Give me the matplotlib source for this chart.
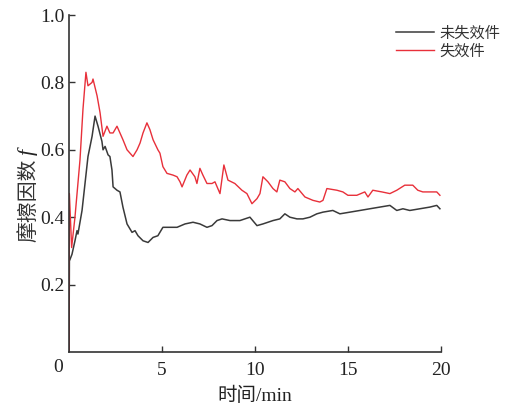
import numpy as np
import matplotlib.pyplot as plt

plt.rcParams['font.family'] = ['Liberation Serif', 'Noto Sans CJK SC']

# time (min) / friction coefficient
t_ok = [0.0, 0.02, 0.16, 0.32, 0.43, 0.48, 0.70, 0.86, 1.02, 1.24, 1.40, 1.56, 1.77, 1.83, 1.94,
        2.10, 2.20, 2.31, 2.37, 2.58, 2.74, 2.90, 3.12, 3.39, 3.55, 3.71, 3.98, 4.25, 4.52, 4.78,
        5.05, 5.43, 5.81, 6.24, 6.67, 7.04, 7.42, 7.69, 7.96, 8.23, 8.66, 9.19, 9.73, 10.11,
        10.43, 10.97, 11.34, 11.61, 11.88, 12.26, 12.58, 12.96, 13.33, 13.66, 14.19, 14.57,
        15.11, 15.65, 16.18, 16.72, 17.26, 17.63, 17.96, 18.33, 18.87, 19.41, 19.78, 19.95]
f_ok = [0.0, 0.27, 0.29, 0.33, 0.36, 0.35, 0.42, 0.50, 0.58, 0.64, 0.70, 0.67, 0.625, 0.60, 0.61,
        0.585, 0.58, 0.54, 0.49, 0.48, 0.475, 0.43, 0.38, 0.355, 0.36, 0.345, 0.33, 0.325, 0.34, 0.345,
        0.37, 0.37, 0.37, 0.38, 0.385, 0.38, 0.37, 0.375, 0.39, 0.395, 0.39, 0.39, 0.40, 0.375,
        0.38, 0.39, 0.395, 0.41, 0.40, 0.395, 0.395, 0.40, 0.41, 0.415, 0.42, 0.41,
        0.415, 0.42, 0.425, 0.43, 0.435, 0.42, 0.425, 0.42, 0.425, 0.43, 0.435, 0.425]

t_fail = [0.0, 0.02, 0.14, 0.32, 0.59, 0.75, 0.91, 1.02, 1.24, 1.29, 1.51, 1.67, 1.83, 2.04, 2.20,
          2.37, 2.58, 2.74, 2.90, 3.12, 3.28, 3.44, 3.66, 3.82, 3.98, 4.19, 4.35, 4.52, 4.78, 4.89,
          5.05, 5.27, 5.59, 5.81, 5.97, 6.08, 6.34, 6.51, 6.77, 6.88, 7.04, 7.20, 7.42, 7.69, 7.85,
          8.12, 8.33, 8.55, 8.92, 9.30, 9.57, 9.84, 10.11, 10.27, 10.43, 10.70, 10.97, 11.18, 11.34,
          11.61, 11.88, 12.15, 12.31, 12.69, 13.12, 13.49, 13.66, 13.87, 14.41, 14.73, 15.0, 15.48,
          15.91, 16.08, 16.34, 16.83, 17.26, 17.63, 18.06, 18.49, 18.76, 19.03, 19.41, 19.78, 19.95]
f_fail = [0.0, 0.47, 0.31, 0.40, 0.57, 0.72, 0.83, 0.79, 0.80, 0.81, 0.76, 0.71, 0.64, 0.67, 0.65,
          0.65, 0.67, 0.65, 0.63, 0.60, 0.59, 0.58, 0.60, 0.62, 0.65, 0.68, 0.66, 0.63, 0.60, 0.59,
          0.55, 0.53, 0.525, 0.52, 0.505, 0.49, 0.525, 0.54, 0.52, 0.50, 0.545, 0.525, 0.50, 0.50, 0.505,
          0.47, 0.555, 0.51, 0.50, 0.48, 0.47, 0.44, 0.455, 0.47, 0.52, 0.505, 0.485, 0.475, 0.51,
          0.505, 0.485, 0.475, 0.485, 0.46, 0.45, 0.445, 0.45, 0.485, 0.48, 0.475, 0.465, 0.465,
          0.475, 0.46, 0.48, 0.475, 0.47, 0.48, 0.495, 0.495, 0.48, 0.475, 0.475, 0.475, 0.465]

labels = ['未失效件', '失效件']

fig = plt.figure(figsize=(5.09, 4.09), dpi=100)
ax = fig.add_axes([0.1356, 0.1394, 0.7305, 0.8239])

ax.plot(t_ok, f_ok, color='#3a3a3a', lw=1.1, label=labels[0])
ax.plot(t_fail, f_fail, color='#e8303a', lw=1.0, label=labels[1])

ax.set_xlim(0, 20)
ax.set_ylim(0, 1.0)
ax.set_xticks([5, 10, 15, 20])
ax.set_yticks([0.2, 0.4, 0.6, 0.8, 1.0])
ax.tick_params(direction='in', length=4, width=1, colors='#333333', labelsize=14,
               labelcolor='#222222')
ax.tick_params(axis='x', pad=7)
for s in ['top', 'right']:
    ax.spines[s].set_visible(False)
for s in ['left', 'bottom']:
    ax.spines[s].set_color('#333333')
    ax.spines[s].set_linewidth(1.2)

ax.text(-0.03, -0.047, '0', transform=ax.transAxes, ha='center', va='center', fontsize=14, color='#222222')
ax.set_xlabel('时间/min', fontsize=14, color='#222222', labelpad=6)

# y label: CJK part plus an italic f on top
fig.text(28 / 509, 1 - 200 / 409, '摩擦因数', rotation=90, ha='center', va='center',
         fontsize=15, color='#333333', family='Noto Sans CJK SC')
fig.text(28 / 509, 1 - 152 / 409, 'f', rotation=90, ha='center', va='center',
         fontsize=16, color='#222222', family='Liberation Serif', style='italic')

leg = ax.legend(loc='upper left', bbox_to_anchor=(396 / 509, 1 - 26 / 409),
                bbox_transform=fig.transFigure, frameon=False, fontsize=11,
                handlelength=2.5, handletextpad=0.35, labelspacing=0.25, borderpad=0,
                borderaxespad=0)
for txt in leg.get_texts():
    txt.set_color('#333333')

fig.savefig('out.png', dpi=100)
